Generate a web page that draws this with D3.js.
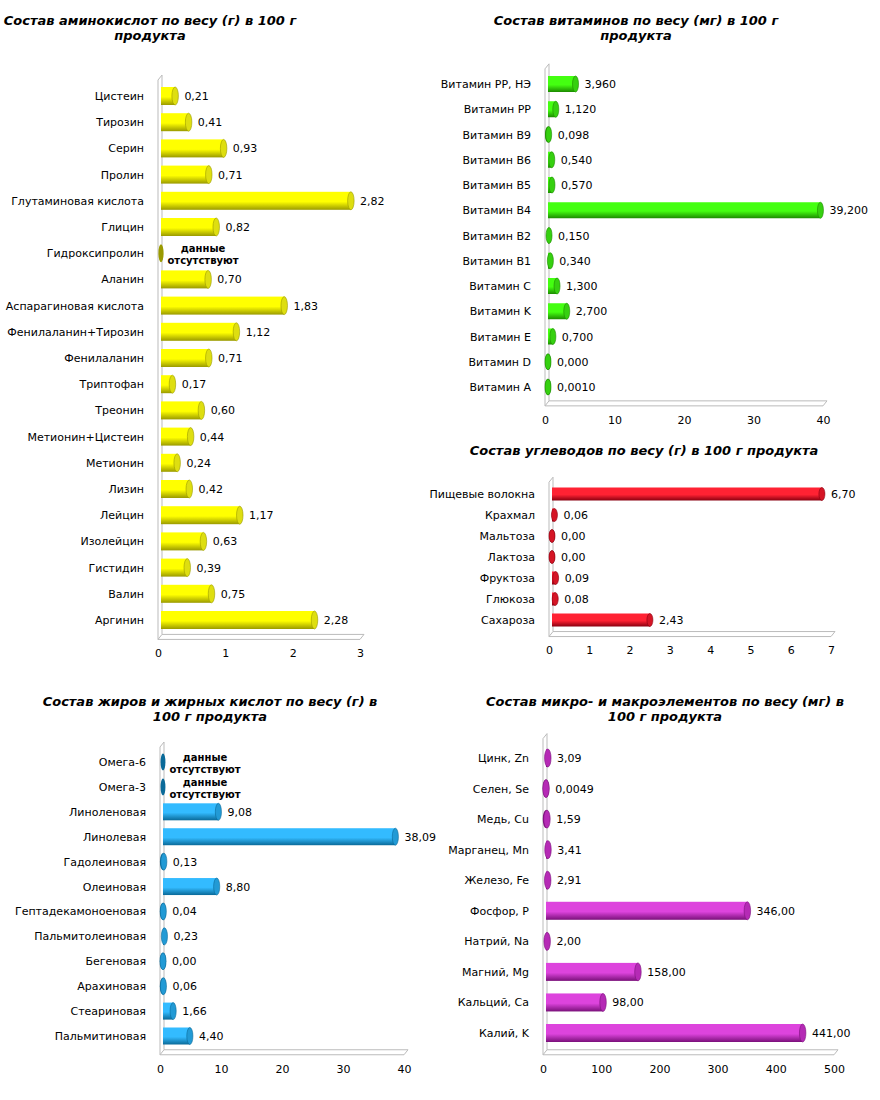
<!DOCTYPE html>
<html><head><meta charset="utf-8">
<script src="https://cdn.jsdelivr.net/npm/d3@7"></script>
<style>body{margin:0;background:#fff}text{font-family:"DejaVu Sans",Verdana,sans-serif}</style>
</head><body>
<svg id="c" width="880" height="1100"></svg>
<script>
// data
const aminoNames = ['Цистеин','Тирозин','Серин','Пролин','Глутаминовая кислота','Глицин','Гидроксипролин','Аланин','Аспарагиновая кислота','Фенилаланин+Тирозин','Фенилаланин','Триптофан','Треонин','Метионин+Цистеин','Метионин','Лизин','Лейцин','Изолейцин','Гистидин','Валин','Аргинин'];
const aminoValues = [0.21,0.41,0.93,0.71,2.82,0.82,null,0.70,1.83,1.12,0.71,0.17,0.60,0.44,0.24,0.42,1.17,0.63,0.39,0.75,2.28];
const vitNames = ['Витамин PP, НЭ','Витамин PP','Витамин B9','Витамин B6','Витамин B5','Витамин B4','Витамин B2','Витамин B1','Витамин C','Витамин K','Витамин E','Витамин D','Витамин A'];
const vitValues = [3.960,1.120,0.098,0.540,0.570,39.200,0.150,0.340,1.300,2.700,0.700,0.000,0.001];
const carbNames = ['Пищевые волокна','Крахмал','Мальтоза','Лактоза','Фруктоза','Глюкоза','Сахароза'];
const carbValues = [6.70,0.06,0.00,0.00,0.09,0.08,2.43];
const fatNames = ['Омега-6','Омега-3','Линоленовая','Линолевая','Гадолеиновая','Олеиновая','Гептадекамоноеновая','Пальмитолеиновая','Бегеновая','Арахиновая','Стеариновая','Пальмитиновая'];
const fatValues = [null,null,9.08,38.09,0.13,8.80,0.04,0.23,0.00,0.06,1.66,4.40];
const minNames = ['Цинк, Zn','Селен, Se','Медь, Cu','Марганец, Mn','Железо, Fe','Фосфор, P','Натрий, Na','Магний, Mg','Кальций, Ca','Калий, K'];
const minValues = [3.09,0.0049,1.59,3.41,2.91,346.00,2.00,158.00,98.00,441.00];

const svg = d3.select('#c');
const defs = svg.append('defs');

function grad(id, light, dark) {
  let g = defs.append('linearGradient').attr('id', id).attr('x1',0).attr('y1',0).attr('x2',0).attr('y2',1);
  g.append('stop').attr('offset','0%').attr('stop-color', light);
  g.append('stop').attr('offset','55%').attr('stop-color', light);
  g.append('stop').attr('offset','100%').attr('stop-color', dark);
}

function fmt(v, d) {
  if (v > 0 && v < 0.01) d = 4;
  return v.toFixed(d).replace('.', ',');
}

function chart(o) {
  let x = d3.scaleLinear().domain([0, o.max]).range([o.x0, o.x1]);
  let y = d3.scalePoint().domain(o.names).range([o.yTop, o.yBot]);
  let g = svg.append('g');
  grad(o.id, o.light, o.dark);

  // title
  let t = g.append('text').attr('x', o.tx).attr('y', o.ty).attr('text-anchor','middle')
    .attr('font-size', 13).attr('font-weight','bold').attr('font-style','italic');
  o.title.forEach((s, i) => t.append('tspan').attr('x', o.tx).attr('dy', i ? 15 : 0).text(s));

  // 3d walls
  let top = o.yTop - o.step * 0.8, bot = o.yBot + o.step * 0.55;
  g.append('path').attr('fill','none').attr('stroke','#bbb')
    .attr('d', `M${o.x0+4},${top} L${o.x0+4},${bot} L${o.x0},${bot+5} M${o.x0},${top+5} L${o.x0},${bot+5} L${o.x1},${bot+5} M${o.x0+4},${bot} L${o.x1+4},${bot} L${o.x1},${bot+5} M${o.x0},${top+5} L${o.x0+4},${top}`);

  // x axis
  let ax = g.append('g').attr('transform', `translate(0,${bot+5})`)
    .call(d3.axisBottom(x).tickValues(o.ticks).tickSize(0).tickPadding(10).tickFormat(d3.format('d')));
  ax.select('.domain').remove();
  ax.selectAll('text').attr('font-size', 11).attr('fill','#000').style('font-family','"DejaVu Sans",Verdana,sans-serif');

  // category labels
  g.selectAll('.cat').data(o.names).join('text')
    .attr('x', o.x0 - 14).attr('y', d => y(d) + 4).attr('text-anchor','end')
    .attr('font-size', 11).text(d => d);

  let h = o.bh, rx = Math.max(3, h * 0.18);
  let rows = o.names.map((n, i) => ({n, v: o.values[i]}));
  let bars = g.selectAll('.bar').data(rows).join('g');
  let bx = o.x0 + 3;
  bars.filter(d => d.v !== null && x(d.v) - o.x0 > 1).append('rect')
    .attr('x', bx).attr('y', d => y(d.n) - h/2)
    .attr('width', d => x(d.v) - o.x0).attr('height', h)
    .attr('fill', `url(#${o.id})`);
  bars.filter(d => d.v !== null && x(d.v) - o.x0 <= 1).append('ellipse')
    .attr('cx', bx).attr('cy', d => y(d.n)).attr('rx', rx).attr('ry', h/2)
    .attr('fill', o.dark);
  bars.filter(d => d.v === null).append('ellipse')
    .attr('cx', bx).attr('cy', d => y(d.n)).attr('rx', rx*0.8).attr('ry', h/2)
    .attr('fill', o.dark);
  bars.filter(d => d.v !== null).append('ellipse')
    .attr('cx', d => bx + Math.max(0, x(d.v) - o.x0)).attr('cy', d => y(d.n)).attr('rx', rx).attr('ry', h/2)
    .attr('fill', o.cap).attr('stroke', o.dark).attr('stroke-width', 0.6);

  bars.filter(d => d.v !== null).append('text')
    .attr('x', d => bx + Math.max(0, x(d.v) - o.x0) + rx + 6).attr('y', d => y(d.n) + 4)
    .attr('font-size', 11).text(d => fmt(d.v, o.dec));

  bars.filter(d => d.v === null).each(function(d) {
    let tt = d3.select(this).append('text').attr('text-anchor','middle')
      .attr('font-size', 10).attr('font-weight','bold');
    tt.append('tspan').attr('x', bx + 42).attr('y', y(d.n) - 1).text('данные');
    tt.append('tspan').attr('x', bx + 42).attr('y', y(d.n) + 11).text('отсутствуют');
  });
}

chart({id:'ga', names: aminoNames, values: aminoValues, max: 3, ticks:[0,1,2,3],
  x0: 158, x1: 360, yTop: 96, yBot: 620, step: 26.2, bh: 18, dec: 2,
  light:'#ffff00', dark:'#9a9a00', cap:'#dede10',
  title:['Состав аминокислот  по весу (г) в 100 г','продукта'], tx: 150, ty: 25});

chart({id:'gv', names: vitNames, values: vitValues, max: 40, ticks:[0,10,20,30,40],
  x0: 545, x1: 823, yTop: 84, yBot: 387, step: 25.2, bh: 16, dec: 3,
  light:'#44ff11', dark:'#1c8a00', cap:'#36d010',
  title:['Состав витаминов по весу (мг) в 100 г','продукта'], tx: 636, ty: 25});

chart({id:'gc', names: carbNames, values: carbValues, max: 7, ticks:[0,1,2,3,4,5,6,7],
  x0: 549, x1: 831, yTop: 494, yBot: 620, step: 21, bh: 13, dec: 2,
  light:'#ff2233', dark:'#8a0010', cap:'#d51525',
  title:['Состав углеводов по весу (г)  в 100 г продукта'], tx: 644, ty: 455});

chart({id:'gf', names: fatNames, values: fatValues, max: 40, ticks:[0,10,20,30,40],
  x0: 160, x1: 404, yTop: 762, yBot: 1036, step: 25, bh: 17, dec: 2,
  light:'#33bbff', dark:'#0a6a99', cap:'#229ad5',
  title:['Состав жиров и жирных кислот по весу (г) в','100 г продукта'], tx: 210, ty: 706});

chart({id:'gm', names: minNames, values: minValues, max: 500, ticks:[0,100,200,300,400,500],
  x0: 543, x1: 834, yTop: 758, yBot: 1033, step: 30.5, bh: 18, dec: 2,
  light:'#dd44dd', dark:'#7a107a', cap:'#b52ab5',
  title:['Состав микро- и макроэлементов по весу (мг) в','100 г продукта'], tx: 665, ty: 706});
</script>
</body></html>
